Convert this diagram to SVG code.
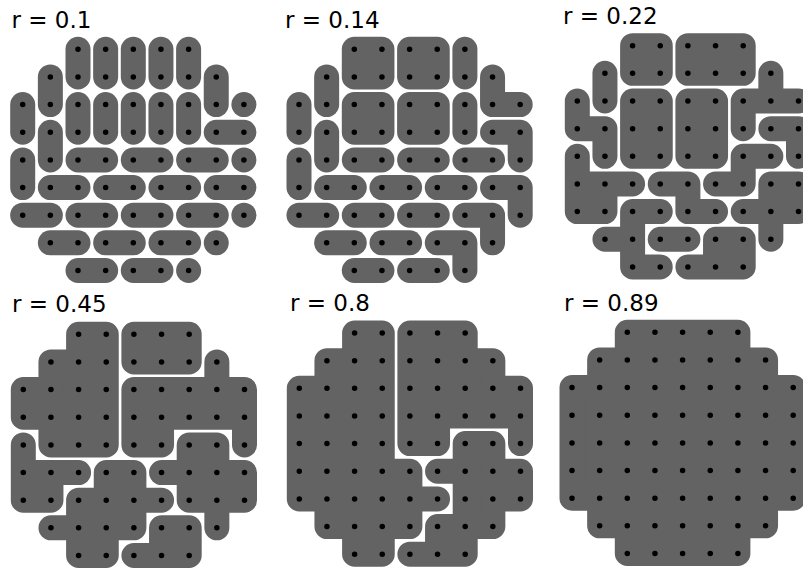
<svg xmlns="http://www.w3.org/2000/svg" width="803" height="569" viewBox="0 0 803 569">
<style>
.r{fill:#636363;stroke:#636363;stroke-width:0.904;stroke-linecap:round;stroke-linejoin:round}
.d{fill:none;stroke:#000;stroke-width:0.2;stroke-linecap:round;stroke-dasharray:0 1}
.t{font-family:"DejaVu Sans",sans-serif;font-size:23px;fill:#000}
</style>
<defs>
<path id="dots" class="d" d="M2 0H6.01M1 1H7.01M0 2H8.01M0 3H8.01M0 4H8.01M0 5H8.01M0 6H8.01M1 7H7.01M2 8H6.01"/>
</defs>
<rect width="803" height="569" fill="#fff"/>
<text class="t" x="11.5" y="27.7">r = 0.1</text>
<text class="t" x="285" y="27.7">r = 0.14</text>
<text class="t" x="563" y="24">r = 0.22</text>
<text class="t" x="12" y="311.5">r = 0.45</text>
<text class="t" x="290" y="311">r = 0.8</text>
<text class="t" x="564" y="311">r = 0.89</text>

<g id="panel1" transform="translate(22.7 49.3) scale(27.65)">
<path class="r" d="M2 0V1"/><path class="r" d="M3 0V1"/><path class="r" d="M4 0V1"/><path class="r" d="M5 0V1"/><path class="r" d="M6 0V1"/>
<path class="r" d="M1 1V2"/><path class="r" d="M7 1V2"/><path class="r" d="M0 2V3"/>
<path class="r" d="M2 2V3"/><path class="r" d="M3 2V3"/><path class="r" d="M4 2V3"/><path class="r" d="M5 2V3"/><path class="r" d="M6 2V3"/>
<path class="r" d="M1 3V4"/><path class="r" d="M0 4V5"/>
<path class="r" d="M7 3H8"/><path class="r" d="M2 4H3"/><path class="r" d="M4 4H5"/><path class="r" d="M6 4H7"/>
<path class="r" d="M1 5H2"/><path class="r" d="M3 5H4"/><path class="r" d="M5 5H6"/><path class="r" d="M7 5H8"/>
<path class="r" d="M0 6H1"/><path class="r" d="M2 6H3"/><path class="r" d="M4 6H5"/><path class="r" d="M6 6H7"/>
<path class="r" d="M1 7H2"/><path class="r" d="M3 7H4"/><path class="r" d="M5 7H6"/>
<path class="r" d="M2 8H3"/><path class="r" d="M4 8H5"/>
<path class="r" d="M8 2h.001"/><path class="r" d="M8 4h.001"/><path class="r" d="M8 6h.001"/><path class="r" d="M7 7h.001"/><path class="r" d="M6 8h.001"/>
<use href="#dots"/>
</g>

<g id="panel2" transform="translate(299 49.3) scale(27.65)">
<path class="r" d="M2 0H3V1H2Z"/><path class="r" d="M4 0H5V1H4Z"/><path class="r" d="M6 0V1"/>
<path class="r" d="M1 1V2"/><path class="r" d="M7 1V2M7 2H8"/>
<path class="r" d="M0 2V3"/><path class="r" d="M2 2H3V3H2Z"/><path class="r" d="M4 2H5V3H4Z"/><path class="r" d="M6 2V3"/>
<path class="r" d="M1 3V4"/><path class="r" d="M7 3H8M8 3V4"/>
<path class="r" d="M0 4V5"/><path class="r" d="M2 4H3"/><path class="r" d="M4 4H5"/><path class="r" d="M6 4H7"/>
<path class="r" d="M1 5H2"/><path class="r" d="M3 5H4"/><path class="r" d="M5 5H6"/><path class="r" d="M7 5H8M8 5V6"/>
<path class="r" d="M0 6H1"/><path class="r" d="M2 6H3"/><path class="r" d="M4 6H5"/><path class="r" d="M6 6H7M7 6V7"/>
<path class="r" d="M1 7H2"/><path class="r" d="M3 7H4"/><path class="r" d="M5 7H6M6 7V8"/>
<path class="r" d="M2 8H3"/><path class="r" d="M4 8H5"/>
<use href="#dots"/>
</g>

<g id="panel3" transform="translate(577.3 45.7) scale(27.65)">
<path class="r" d="M2 0H3V1H2Z"/>
<path class="r" d="M4 0H6V1H4Z"/>
<path class="r" d="M1 1V2"/>
<path class="r" d="M7 1V2M6 2H8M6 2V3"/>
<path class="r" d="M0 2V3M0 3H1M1 3V4"/>
<path class="r" d="M2 2H3V4H2Z"/>
<path class="r" d="M4 2H5V4H4Z"/>
<path class="r" d="M7 3H8M8 3V4"/>
<path class="r" d="M0 5H1V6H0ZM0 4V5M1 5H2"/>
<path class="r" d="M6 4H7M5 5H6M6 4V5"/>
<path class="r" d="M3 5H4M4 5V6M4 6H5"/>
<path class="r" d="M7 5H8V6H7ZM6 6H7M7 6V7"/>
<path class="r" d="M2 6H3M1 7H2M2 6V8M2 8H3"/>
<path class="r" d="M3 7H4"/>
<path class="r" d="M5 7H6V8H5ZM4 8H5"/>
<use href="#dots"/>
</g>

<g id="panel4" transform="translate(23.3 334.3) scale(27.65)">
<path class="r" d="M2 0H3V4H1V3H0V2H1V1H2Z"/>
<path class="r" d="M4 0H6V1H4Z"/>
<path class="r" d="M4 2H8V3H5V4H4ZM7 1V2M8 3V4"/>
<path class="r" d="M0 5H1V6H0ZM0 4V5M1 5H2"/>
<path class="r" d="M3 5H4V7H3V8H2V6H3ZM4 6H5M1 7H2"/>
<path class="r" d="M6 4H7V5H8V6H6ZM5 5H6M7 6V7"/>
<path class="r" d="M5 7H6V8H5ZM4 8H5"/>
<use href="#dots"/>
</g>

<g id="panel5" transform="translate(299.3 333) scale(27.65)">
<path class="r" d="M2 0H3V5H4V7H3V8H2V7H1V6H0V2H1V1H2ZM4 6H5"/>
<path class="r" d="M4 0H6V1H7V2H8V3H5V4H4ZM8 3V4"/>
<path class="r" d="M6 4H7V5H8V6H7V7H6ZM5 7H6V8H5ZM5 5H6M4 8H5"/>
<use href="#dots"/>
</g>

<g id="panel6" transform="translate(572 332.3) scale(27.65)">
<path class="r" d="M2 0H6V1H7V2H8V6H7V7H6V8H2V7H1V6H0V2H1V1H2Z"/>
<use href="#dots"/>
</g>
</svg>
